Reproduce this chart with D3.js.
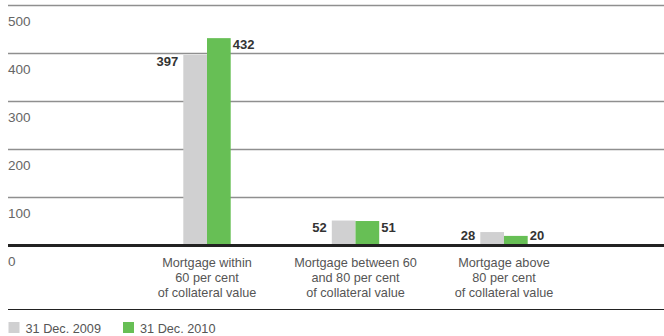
<!DOCTYPE html>
<html>
<head>
<meta charset="utf-8">
<script src="https://cdn.jsdelivr.net/npm/d3@7"></script>
<style>
  body { margin: 0; background: #fff; }
</style>
</head>
<body>
<div id="chart"></div>
<script>
const categories = ["within60", "between60and80", "above80"];
const categoryLabels = [
  ["Mortgage within", "60 per cent", "of collateral value"],
  ["Mortgage between 60", "and 80 per cent", "of collateral value"],
  ["Mortgage above", "80 per cent", "of collateral value"],
];
const series = ["31 Dec. 2009", "31 Dec. 2010"];
const values2009 = [397, 52, 28];
const values2010 = [432, 51, 20];
const yTicks = [0, 100, 200, 300, 400, 500];

const size = { width: 664, height: 336 };
const colors = { "31 Dec. 2009": "#d0d0d1", "31 Dec. 2010": "#67bf55" };
const lightFont = "'Liberation Sans', Arial, sans-serif";
const boldFont = "'Liberation Sans', Arial, sans-serif";

const svg = d3
  .select("#chart")
  .append("svg")
  .attr("width", size.width)
  .attr("height", size.height);

const y = d3.scaleLinear().domain([0, 500]).range([245.5, 5.5]);
const x = d3.scalePoint().domain(categories).range([207, 504]);
const x1 = d3.scaleBand().domain(series).range([-23.7, 23.7]);

// grid lines
svg
  .append("g")
  .selectAll("line")
  .data(yTicks.filter((d) => d > 0))
  .join("line")
  .attr("x1", 8)
  .attr("x2", size.width)
  .attr("y1", (d) => y(d))
  .attr("y2", (d) => y(d))
  .attr("stroke", "#8f8f8f")
  .attr("stroke-width", 1.6);

// tick labels sit below their lines
svg
  .append("g")
  .selectAll("text")
  .data(yTicks)
  .join("text")
  .attr("x", 8)
  .attr("y", (d) => y(d) + 20)
  .style("font-family", lightFont)
  .style("font-size", "13.5px")
  .attr("fill", "#666")
  .text((d) => d);

const rows = categories.map((c, i) => ({
  key: c,
  labels: categoryLabels[i],
  values: [
    { s: series[0], v: values2009[i] },
    { s: series[1], v: values2010[i] },
  ],
}));

const group = svg
  .append("g")
  .selectAll("g")
  .data(rows)
  .join("g")
  .attr("transform", (d) => `translate(${x(d.key)},0)`);

group
  .selectAll("rect")
  .data((d) => d.values)
  .join("rect")
  .attr("x", (d) => x1(d.s))
  .attr("width", x1.bandwidth())
  .attr("y", (d) => y(d.v))
  .attr("height", (d) => y(0) - y(d.v))
  .attr("fill", (d) => colors[d.s]);

// value labels: 2009 left of bar, 2010 right of bar
group
  .selectAll(".val")
  .data((d) => d.values)
  .join("text")
  .attr("class", "val")
  .attr("x", (d, i) => (i === 0 ? x1(d.s) - 5 : x1(d.s) + x1.bandwidth() + 2))
  .attr("y", (d) => Math.min(y(d.v) + 11, 239.5))
  .attr("text-anchor", (d, i) => (i === 0 ? "end" : "start"))
  .style("font-family", boldFont)
  .style("font-weight", "bold")
  .style("font-size", "13px")
  .attr("fill", "#333")
  .text((d) => d.v);

// category labels
group
  .append("text")
  .attr("text-anchor", "middle")
  .style("font-family", lightFont)
  .style("font-size", "12.7px")
  .attr("fill", "#555")
  .selectAll("tspan")
  .data((d) => d.labels)
  .join("tspan")
  .attr("x", 0)
  .attr("y", (d, i) => 267 + i * 15.2)
  .text((d) => d);

// baseline
svg
  .append("line")
  .attr("x1", 8)
  .attr("x2", size.width)
  .attr("y1", y(0))
  .attr("y2", y(0))
  .attr("stroke", "#222")
  .attr("stroke-width", 3);

// bottom rule
svg
  .append("line")
  .attr("x1", 8)
  .attr("x2", size.width)
  .attr("y1", 309.5)
  .attr("y2", 309.5)
  .attr("stroke", "#222")
  .attr("stroke-width", 1);

// legend
const legend = svg
  .append("g")
  .selectAll("g")
  .data(series)
  .join("g")
  .attr("transform", (d, i) => `translate(${8.5 + i * 114.5},322)`);

legend
  .append("rect")
  .attr("width", 11)
  .attr("height", 11)
  .attr("fill", (d) => colors[d]);

legend
  .append("text")
  .attr("x", 17)
  .attr("y", 11)
  .style("font-family", lightFont)
  .style("font-size", "12.7px")
  .attr("fill", "#555")
  .text((d) => d);
</script>
</body>
</html>
